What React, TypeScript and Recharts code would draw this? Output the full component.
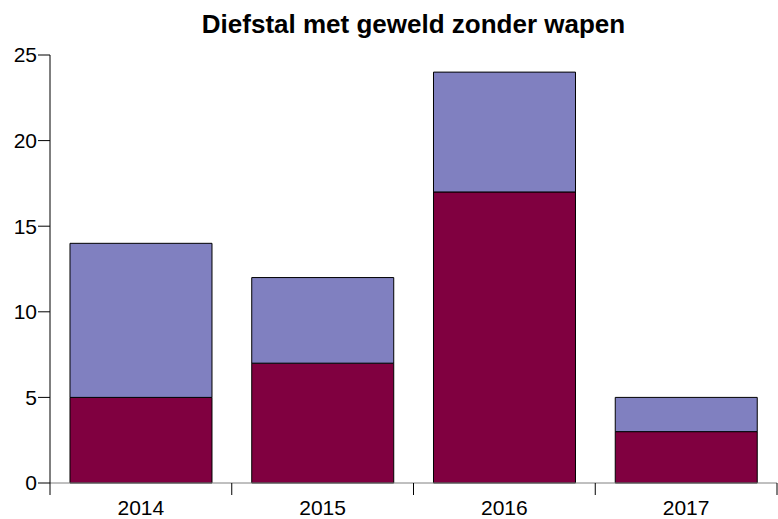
import React from 'react';
import { BarChart, Bar, XAxis, YAxis } from 'recharts';

const years = ['2014', '2015', '2016', '2017'];
const lower = [5, 7, 17, 3];
const upper = [9, 5, 7, 2];
const yTicks = [0, 5, 10, 15, 20, 25];

const data = years.map((year, i) => ({ year, lower: lower[i], upper: upper[i] }));

const W = 778;
const H = 519;
const LEFT = 50;
const RIGHT = 1;
const BAND = (W - LEFT - RIGHT) / years.length;
const FONT = '"Liberation Sans", Arial, sans-serif';

const XTick = (props: any) => {
  const { x, y, payload, index } = props;
  const half = BAND / 2;
  return (
    <g>
      {index === 0 && <line x1={x - half} x2={x - half} y1={y - 8} y2={y + 4} stroke="#000" />}
      <line x1={x + half} x2={x + half} y1={y - 8} y2={y + 4} stroke="#000" />
      <text x={x} y={y + 24} textAnchor="middle" fontSize={21} fontFamily={FONT} fill="#000">
        {payload.value}
      </text>
    </g>
  );
};

export default function App() {
  return (
    <div style={{ width: W, height: H, position: 'relative', background: '#fff' }}>
      <style>{'body{margin:0}'}</style>
      <div
        style={{
          position: 'absolute',
          left: LEFT,
          width: W - LEFT - RIGHT,
          top: 9,
          lineHeight: '30px',
          textAlign: 'center',
          fontFamily: FONT,
          fontWeight: 'bold',
          fontSize: 26,
          color: '#000',
        }}
      >
        Diefstal met geweld zonder wapen
      </div>
      <BarChart
        width={W}
        height={H}
        data={data}
        margin={{ top: 55, right: RIGHT, bottom: 6, left: 0 }}
        barCategoryGap="11%"
      >
        <XAxis
          dataKey="year"
          stroke="#808080"
          tickLine={false}
          height={30}
          tick={<XTick />}
          interval={0}
        />
        <YAxis
          width={LEFT}
          domain={[0, 25]}
          ticks={yTicks}
          interval={0}
          stroke="#000"
          tickSize={12}
          tick={{ fill: '#000', fontSize: 21, fontFamily: FONT }}
          tickMargin={1}
        />
        <Bar dataKey="lower" stackId="a" fill="#800040" stroke="#000" strokeWidth={1} isAnimationActive={false} />
        <Bar dataKey="upper" stackId="a" fill="#8080c0" stroke="#000" strokeWidth={1} isAnimationActive={false} />
      </BarChart>
    </div>
  );
}
